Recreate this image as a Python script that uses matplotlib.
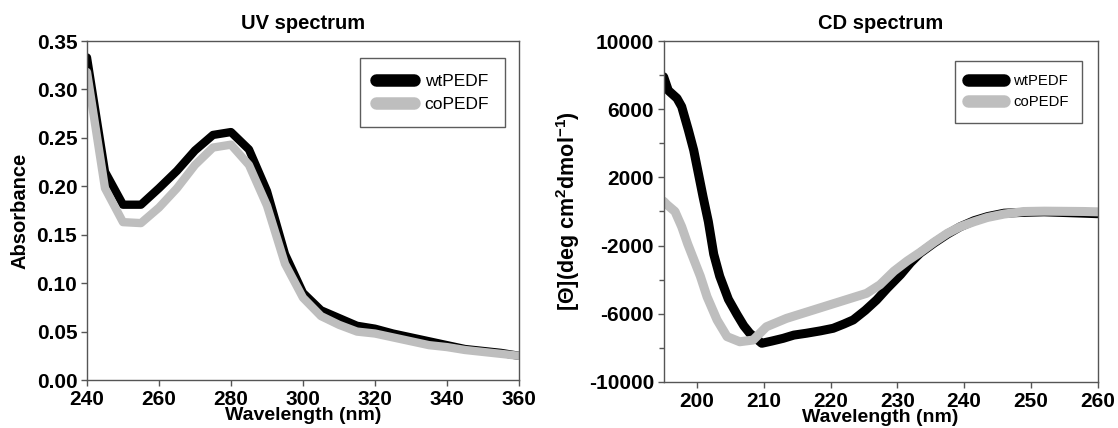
import matplotlib
matplotlib.use('Agg')
import matplotlib.pyplot as plt
from matplotlib.ticker import MultipleLocator

plt.rcParams['font.family'] = ['Liberation Sans', 'DejaVu Sans']
plt.rcParams['mathtext.fontset'] = 'custom'
plt.rcParams['mathtext.rm'] = 'Liberation Sans:bold'
plt.rcParams['mathtext.bf'] = 'Liberation Sans:bold'
plt.rcParams['mathtext.default'] = 'bf'
plt.rcParams['axes.unicode_minus'] = False

# UV spectrum (absorbance)
uv_nm = [240, 245, 250, 255, 260, 265, 270, 275, 280, 285, 290, 295, 300,
         305, 310, 315, 320, 325, 330, 335, 340, 345, 350, 355, 360]
uv_wt = [0.333, 0.215, 0.181, 0.181, 0.198, 0.216, 0.237, 0.253, 0.256, 0.238,
         0.195, 0.130, 0.090, 0.072, 0.064, 0.056, 0.053, 0.048, 0.044, 0.040,
         0.036, 0.032, 0.030, 0.028, 0.025]
uv_co = [0.318, 0.198, 0.163, 0.162, 0.178, 0.198, 0.222, 0.240, 0.243, 0.222,
         0.180, 0.120, 0.085, 0.066, 0.057, 0.050, 0.048, 0.044, 0.040, 0.036,
         0.034, 0.031, 0.029, 0.027, 0.025]

# CD spectrum (mean residue ellipticity)
cd_wt_nm = [195.0, 195.7, 197.0, 197.7, 198.7, 199.5, 200.2, 200.9, 201.7, 202.5,
            203.4, 204.7, 206.0, 207.0, 207.9, 209.7, 211.2, 212.9, 214.5, 216.4,
            218.5, 220.4, 222.0, 223.4, 225.2, 226.9, 228.5, 230.5, 232.0, 233.4,
            235.5, 237.5, 239.4, 241.5, 243.5, 246.0, 249.0, 252.0, 255.0, 258.0,
            260.0]
cd_wt = [7900, 7100, 6640, 6150, 4780, 3600, 2240, 870, -600, -2500,
         -3800, -5150, -6050, -6700, -7140, -7730, -7600, -7440, -7250, -7140,
         -7000, -6850, -6600, -6360, -5800, -5190, -4500, -3700, -3000, -2450,
         -1850, -1330, -900, -540, -300, -100, -50, -20, -60, -100,
         -130]
cd_co_nm = [195.0, 195.5, 196.7, 197.7, 198.6, 199.6, 200.5, 201.5, 203.0, 204.5,
            206.4, 208.4, 210.4, 213.4, 217.4, 221.4, 225.4, 227.4, 229.5, 231.5,
            233.4, 235.5, 237.5, 239.4, 241.5, 243.5, 246.0, 249.0, 252.0, 255.0,
            258.0, 260.0]
cd_co = [600, 400, 0, -890, -1900, -2900, -3800, -5000, -6360, -7340,
         -7640, -7540, -6760, -6270, -5780, -5290, -4800, -4300, -3500, -2900,
         -2400, -1800, -1280, -900, -600, -350, -150, 0, 20, 10,
         0, -20]

BLACK = "#000000"
GRAY = "#bebebe"
SPINE = "#555555"

fig = plt.figure(figsize=(11.18, 4.28), dpi=100)
ax1 = fig.add_axes([0.0778, 0.1121, 0.3864, 0.7921])
ax2 = fig.add_axes([0.5936, 0.1075, 0.3881, 0.7967])


def style(ax):
    for s in ax.spines.values():
        s.set_color(SPINE)
        s.set_linewidth(1.0)
    ax.tick_params(direction="out", length=4, width=1, color=SPINE,
                   labelsize=15, pad=3)
    ax.tick_params(which="minor", direction="out", length=3.5, width=1, color=SPINE)
    for lab in ax.get_xticklabels() + ax.get_yticklabels():
        lab.set_fontweight("bold")


def legend(ax, anchor, size, hlen):
    leg = ax.legend(loc="upper right", bbox_to_anchor=anchor, fontsize=size,
                    handlelength=hlen, frameon=True, fancybox=False,
                    borderpad=0.9, labelspacing=0.45, handletextpad=0.6,
                    borderaxespad=0)
    leg.get_frame().set_edgecolor("#333333")
    leg.get_frame().set_linewidth(1.0)
    for h in leg.get_lines():
        h.set_linewidth(9)
        h.set_solid_capstyle("round")
    return leg


# UV panel
ax1.plot(uv_nm, uv_wt, color=BLACK, lw=6, solid_capstyle="round",
         solid_joinstyle="round", label="wtPEDF")
ax1.plot(uv_nm, uv_co, color=GRAY, lw=6, solid_capstyle="round",
         solid_joinstyle="round", label="coPEDF")
ax1.set_xlim(240, 360)
ax1.set_ylim(0, 0.35)
ax1.set_xticks(range(240, 361, 20))
ax1.set_yticks([0, 0.05, 0.10, 0.15, 0.20, 0.25, 0.30, 0.35])
ax1.set_yticklabels(["0.00", "0.05", "0.10", "0.15", "0.20", "0.25", "0.30", "0.35"])
ax1.set_title("UV spectrum", fontsize=14.5, fontweight="bold", pad=9)
ax1.set_xlabel("Wavelength (nm)", fontsize=14, fontweight="bold", labelpad=-1)
ax1.set_ylabel("Absorbance", fontsize=14.5, fontweight="bold", labelpad=5)
style(ax1)
legend(ax1, (0.967, 0.95), 12.5, 2.2)

# CD panel
ax2.plot(cd_wt_nm, cd_wt, color=BLACK, lw=6.5, solid_capstyle="round",
         solid_joinstyle="round", label="wtPEDF")
ax2.plot(cd_co_nm, cd_co, color=GRAY, lw=6.5, solid_capstyle="round",
         solid_joinstyle="round", label="coPEDF")
ax2.set_xlim(195, 260)
ax2.set_ylim(-10000, 10000)
ax2.set_xticks(range(200, 261, 10))
ax2.set_yticks([-10000, -6000, -2000, 2000, 6000, 10000])
ax2.yaxis.set_minor_locator(MultipleLocator(2000))
ax2.set_title("CD spectrum", fontsize=14.5, fontweight="bold", pad=9)
ax2.set_xlabel("Wavelength (nm)", fontsize=14, fontweight="bold", labelpad=-1)
ax2.set_ylabel("[Θ](deg cm$^{2}$dmol$^{-1}$)", fontsize=15.5, fontweight="bold",
               labelpad=5)
style(ax2)
legend(ax2, (0.964, 0.941), 10.7, 2.4)

fig.savefig("out.png", dpi=100)
